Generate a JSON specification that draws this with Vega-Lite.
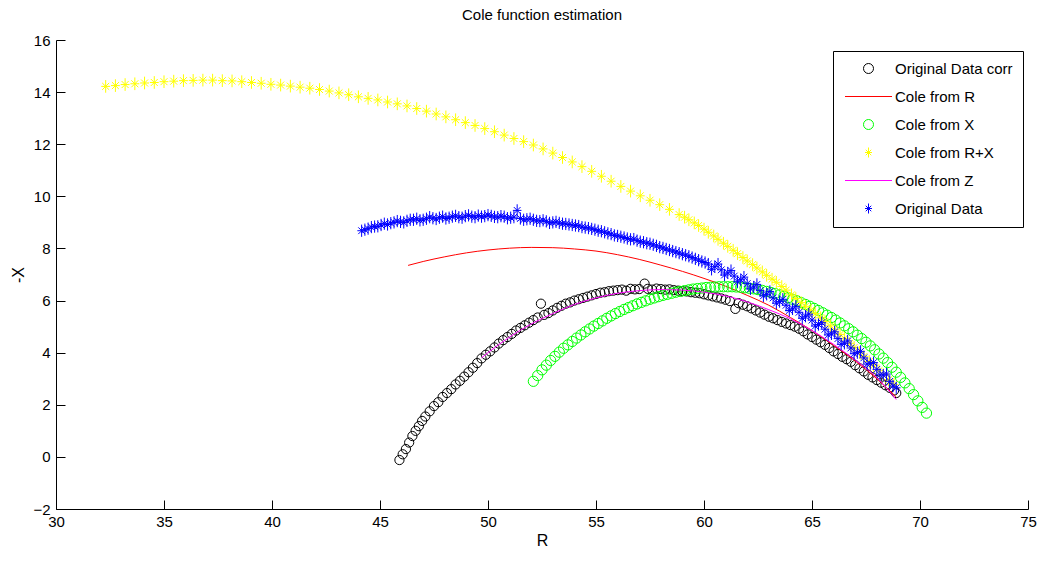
{
"$schema":"https://vega.github.io/schema/vega-lite/v6.json",
"width":972,"height":469,
"autosize":{"type":"none"},
"padding":{"left":56,"top":40,"right":13,"bottom":53},
"background":"#ffffff",
"title":{"text":"Cole function estimation","font":"Liberation Sans","fontSize":15,"fontWeight":"normal","color":"#000000","offset":10,"anchor":"middle"},
"config":{"view":{"stroke":null},
"axis":{"grid":false,"domainColor":"#000000","tickColor":"#000000","tickSize":-9,"labelFont":"Liberation Sans","labelFontSize":15,"labelColor":"#000000","titleFont":"Liberation Sans","titleFontSize":16,"titleFontWeight":"normal","titleColor":"#000000","labelOverlap":false,"labelFlush":false}},
"data":{"values":[
{"s":"k","r":45.9,"x":-0.12},{"s":"k","r":46.05,"x":0.1},{"s":"k","r":46.2,"x":0.3},{"s":"k","r":46.35,"x":0.55},{"s":"k","r":46.5,"x":0.8},{"s":"k","r":46.65,"x":1.0},{"s":"k","r":46.8,"x":1.18},{"s":"k","r":46.95,"x":1.38},{"s":"k","r":47.1,"x":1.55},{"s":"k","r":47.3,"x":1.75},{"s":"k","r":47.5,"x":1.95},{"s":"k","r":47.7,"x":2.1},{"s":"k","r":47.9,"x":2.3},{"s":"k","r":48.1,"x":2.45},{"s":"k","r":48.3,"x":2.6},{"s":"k","r":48.5,"x":2.78},{"s":"k","r":48.7,"x":2.92},{"s":"k","r":48.9,"x":3.08},{"s":"k","r":49.1,"x":3.25},{"s":"k","r":49.3,"x":3.42},{"s":"k","r":49.5,"x":3.6},{"s":"k","r":49.7,"x":3.78},{"s":"k","r":49.9,"x":3.92},{"s":"k","r":50.1,"x":4.05},{"s":"k","r":50.3,"x":4.2},{"s":"k","r":50.5,"x":4.35},{"s":"k","r":50.7,"x":4.48},{"s":"k","r":50.9,"x":4.6},{"s":"k","r":51.1,"x":4.72},{"s":"k","r":51.3,"x":4.85},{"s":"k","r":51.5,"x":4.95},{"s":"k","r":51.7,"x":5.05},{"s":"k","r":51.9,"x":5.15},{"s":"k","r":52.1,"x":5.25},{"s":"k","r":52.3,"x":5.35},{"s":"k","r":52.45,"x":5.88},{"s":"k","r":52.6,"x":5.45},{"s":"k","r":52.8,"x":5.52},{"s":"k","r":53.0,"x":5.62},{"s":"k","r":53.2,"x":5.72},{"s":"k","r":53.4,"x":5.8},{"s":"k","r":53.6,"x":5.88},{"s":"k","r":53.8,"x":5.93},{"s":"k","r":54.0,"x":6.0},{"s":"k","r":54.2,"x":6.05},{"s":"k","r":54.4,"x":6.1},{"s":"k","r":54.6,"x":6.15},{"s":"k","r":54.8,"x":6.2},{"s":"k","r":55.0,"x":6.25},{"s":"k","r":55.2,"x":6.3},{"s":"k","r":55.4,"x":6.32},{"s":"k","r":55.6,"x":6.36},{"s":"k","r":55.8,"x":6.38},{"s":"k","r":56.0,"x":6.4},{"s":"k","r":56.2,"x":6.42},{"s":"k","r":56.4,"x":6.38},{"s":"k","r":56.6,"x":6.45},{"s":"k","r":56.8,"x":6.43},{"s":"k","r":57.0,"x":6.44},{"s":"k","r":57.25,"x":6.65},{"s":"k","r":57.4,"x":6.45},{"s":"k","r":57.6,"x":6.42},{"s":"k","r":57.8,"x":6.46},{"s":"k","r":58.0,"x":6.44},{"s":"k","r":58.2,"x":6.42},{"s":"k","r":58.4,"x":6.43},{"s":"k","r":58.6,"x":6.4},{"s":"k","r":58.8,"x":6.38},{"s":"k","r":59.0,"x":6.36},{"s":"k","r":59.2,"x":6.35},{"s":"k","r":59.4,"x":6.32},{"s":"k","r":59.6,"x":6.3},{"s":"k","r":59.8,"x":6.28},{"s":"k","r":60.0,"x":6.24},{"s":"k","r":60.2,"x":6.2},{"s":"k","r":60.4,"x":6.16},{"s":"k","r":60.6,"x":6.12},{"s":"k","r":60.8,"x":6.08},{"s":"k","r":61.0,"x":6.03},{"s":"k","r":61.2,"x":5.98},{"s":"k","r":61.45,"x":5.68},{"s":"k","r":61.6,"x":5.9},{"s":"k","r":61.8,"x":5.84},{"s":"k","r":62.0,"x":5.78},{"s":"k","r":62.2,"x":5.7},{"s":"k","r":62.4,"x":5.62},{"s":"k","r":62.6,"x":5.54},{"s":"k","r":62.8,"x":5.46},{"s":"k","r":63.0,"x":5.38},{"s":"k","r":63.2,"x":5.32},{"s":"k","r":63.4,"x":5.25},{"s":"k","r":63.6,"x":5.18},{"s":"k","r":63.8,"x":5.12},{"s":"k","r":64.0,"x":5.06},{"s":"k","r":64.2,"x":5.0},{"s":"k","r":64.4,"x":4.92},{"s":"k","r":64.6,"x":4.82},{"s":"k","r":64.8,"x":4.7},{"s":"k","r":65.0,"x":4.6},{"s":"k","r":65.2,"x":4.5},{"s":"k","r":65.4,"x":4.4},{"s":"k","r":65.6,"x":4.3},{"s":"k","r":65.8,"x":4.18},{"s":"k","r":66.0,"x":4.05},{"s":"k","r":66.2,"x":3.95},{"s":"k","r":66.4,"x":3.84},{"s":"k","r":66.6,"x":3.75},{"s":"k","r":66.8,"x":3.65},{"s":"k","r":67.0,"x":3.52},{"s":"k","r":67.2,"x":3.4},{"s":"k","r":67.4,"x":3.28},{"s":"k","r":67.6,"x":3.15},{"s":"k","r":67.8,"x":3.05},{"s":"k","r":68.0,"x":2.95},{"s":"k","r":68.2,"x":2.85},{"s":"k","r":68.4,"x":2.75},{"s":"k","r":68.6,"x":2.65},{"s":"k","r":68.8,"x":2.55},{"s":"k","r":68.9,"x":2.45},
{"s":"r","r":46.3,"x":7.35},{"s":"r","r":47,"x":7.5},{"s":"r","r":48,"x":7.68},{"s":"r","r":49,"x":7.83},{"s":"r","r":50,"x":7.94},{"s":"r","r":51,"x":8.01},{"s":"r","r":52,"x":8.04},{"s":"r","r":53,"x":8.03},{"s":"r","r":54,"x":7.98},{"s":"r","r":55,"x":7.9},{"s":"r","r":56,"x":7.76},{"s":"r","r":57,"x":7.58},{"s":"r","r":58,"x":7.36},{"s":"r","r":59,"x":7.12},{"s":"r","r":60,"x":6.85},{"s":"r","r":61,"x":6.55},{"s":"r","r":62,"x":6.2},{"s":"r","r":63,"x":5.82},{"s":"r","r":64,"x":5.35},{"s":"r","r":65,"x":4.85},{"s":"r","r":66,"x":4.28},{"s":"r","r":67,"x":3.68},{"s":"r","r":68,"x":3.0},{"s":"r","r":68.9,"x":2.3},
{"s":"g","r":52.1,"x":2.9},{"s":"g","r":52.3,"x":3.12},{"s":"g","r":52.5,"x":3.34},{"s":"g","r":52.7,"x":3.52},{"s":"g","r":52.9,"x":3.7},{"s":"g","r":53.1,"x":3.86},{"s":"g","r":53.3,"x":4.02},{"s":"g","r":53.5,"x":4.17},{"s":"g","r":53.7,"x":4.3},{"s":"g","r":53.9,"x":4.43},{"s":"g","r":54.1,"x":4.56},{"s":"g","r":54.3,"x":4.68},{"s":"g","r":54.5,"x":4.8},{"s":"g","r":54.7,"x":4.91},{"s":"g","r":54.9,"x":5.02},{"s":"g","r":55.1,"x":5.12},{"s":"g","r":55.3,"x":5.22},{"s":"g","r":55.5,"x":5.32},{"s":"g","r":55.7,"x":5.41},{"s":"g","r":55.9,"x":5.5},{"s":"g","r":56.1,"x":5.58},{"s":"g","r":56.3,"x":5.66},{"s":"g","r":56.5,"x":5.73},{"s":"g","r":56.7,"x":5.8},{"s":"g","r":56.9,"x":5.87},{"s":"g","r":57.1,"x":5.93},{"s":"g","r":57.3,"x":5.99},{"s":"g","r":57.5,"x":6.05},{"s":"g","r":57.7,"x":6.1},{"s":"g","r":57.9,"x":6.15},{"s":"g","r":58.1,"x":6.2},{"s":"g","r":58.3,"x":6.24},{"s":"g","r":58.5,"x":6.28},{"s":"g","r":58.7,"x":6.32},{"s":"g","r":58.9,"x":6.35},{"s":"g","r":59.1,"x":6.38},{"s":"g","r":59.3,"x":6.41},{"s":"g","r":59.5,"x":6.44},{"s":"g","r":59.7,"x":6.46},{"s":"g","r":59.9,"x":6.48},{"s":"g","r":60.1,"x":6.5},{"s":"g","r":60.3,"x":6.51},{"s":"g","r":60.5,"x":6.52},{"s":"g","r":60.7,"x":6.53},{"s":"g","r":60.9,"x":6.53},{"s":"g","r":61.1,"x":6.53},{"s":"g","r":61.3,"x":6.53},{"s":"g","r":61.5,"x":6.52},{"s":"g","r":61.7,"x":6.51},{"s":"g","r":61.9,"x":6.49},{"s":"g","r":62.1,"x":6.47},{"s":"g","r":62.3,"x":6.45},{"s":"g","r":62.5,"x":6.42},{"s":"g","r":62.7,"x":6.39},{"s":"g","r":62.9,"x":6.35},{"s":"g","r":63.1,"x":6.31},{"s":"g","r":63.3,"x":6.27},{"s":"g","r":63.5,"x":6.22},{"s":"g","r":63.7,"x":6.17},{"s":"g","r":63.9,"x":6.11},{"s":"g","r":64.1,"x":6.05},{"s":"g","r":64.3,"x":5.99},{"s":"g","r":64.5,"x":5.92},{"s":"g","r":64.7,"x":5.85},{"s":"g","r":64.9,"x":5.78},{"s":"g","r":65.1,"x":5.7},{"s":"g","r":65.3,"x":5.62},{"s":"g","r":65.5,"x":5.53},{"s":"g","r":65.7,"x":5.44},{"s":"g","r":65.9,"x":5.35},{"s":"g","r":66.1,"x":5.25},{"s":"g","r":66.3,"x":5.14},{"s":"g","r":66.5,"x":5.03},{"s":"g","r":66.7,"x":4.92},{"s":"g","r":66.9,"x":4.8},{"s":"g","r":67.1,"x":4.67},{"s":"g","r":67.3,"x":4.54},{"s":"g","r":67.5,"x":4.4},{"s":"g","r":67.7,"x":4.26},{"s":"g","r":67.9,"x":4.11},{"s":"g","r":68.1,"x":3.95},{"s":"g","r":68.3,"x":3.79},{"s":"g","r":68.5,"x":3.62},{"s":"g","r":68.7,"x":3.44},{"s":"g","r":68.9,"x":3.25},{"s":"g","r":69.1,"x":3.05},{"s":"g","r":69.3,"x":2.84},{"s":"g","r":69.5,"x":2.62},{"s":"g","r":69.7,"x":2.39},{"s":"g","r":69.9,"x":2.15},{"s":"g","r":70.1,"x":1.9},{"s":"g","r":70.3,"x":1.68},
{"s":"y","r":32.3,"x":14.22},{"s":"y","r":32.75,"x":14.25},{"s":"y","r":33.2,"x":14.29},{"s":"y","r":33.65,"x":14.32},{"s":"y","r":34.1,"x":14.35},{"s":"y","r":34.55,"x":14.37},{"s":"y","r":35.0,"x":14.4},{"s":"y","r":35.45,"x":14.42},{"s":"y","r":35.9,"x":14.44},{"s":"y","r":36.35,"x":14.45},{"s":"y","r":36.8,"x":14.46},{"s":"y","r":37.25,"x":14.46},{"s":"y","r":37.7,"x":14.44},{"s":"y","r":38.15,"x":14.43},{"s":"y","r":38.6,"x":14.4},{"s":"y","r":39.05,"x":14.37},{"s":"y","r":39.5,"x":14.34},{"s":"y","r":39.95,"x":14.3},{"s":"y","r":40.4,"x":14.27},{"s":"y","r":40.85,"x":14.23},{"s":"y","r":41.3,"x":14.19},{"s":"y","r":41.75,"x":14.15},{"s":"y","r":42.2,"x":14.1},{"s":"y","r":42.65,"x":14.04},{"s":"y","r":43.1,"x":13.97},{"s":"y","r":43.55,"x":13.9},{"s":"y","r":44.0,"x":13.82},{"s":"y","r":44.45,"x":13.76},{"s":"y","r":44.9,"x":13.7},{"s":"y","r":45.35,"x":13.62},{"s":"y","r":45.8,"x":13.55},{"s":"y","r":46.25,"x":13.47},{"s":"y","r":46.7,"x":13.37},{"s":"y","r":47.15,"x":13.27},{"s":"y","r":47.6,"x":13.16},{"s":"y","r":48.05,"x":13.05},{"s":"y","r":48.5,"x":12.94},{"s":"y","r":48.95,"x":12.83},{"s":"y","r":49.4,"x":12.72},{"s":"y","r":49.85,"x":12.6},{"s":"y","r":50.3,"x":12.48},{"s":"y","r":50.75,"x":12.35},{"s":"y","r":51.2,"x":12.22},{"s":"y","r":51.65,"x":12.1},{"s":"y","r":52.1,"x":11.97},{"s":"y","r":52.55,"x":11.82},{"s":"y","r":53.0,"x":11.66},{"s":"y","r":53.45,"x":11.49},{"s":"y","r":53.9,"x":11.32},{"s":"y","r":54.35,"x":11.14},{"s":"y","r":54.8,"x":10.96},{"s":"y","r":55.25,"x":10.77},{"s":"y","r":55.7,"x":10.58},{"s":"y","r":56.15,"x":10.38},{"s":"y","r":56.6,"x":10.2},{"s":"y","r":57.05,"x":10.02},{"s":"y","r":57.5,"x":9.85},{"s":"y","r":57.95,"x":9.68},{"s":"y","r":58.4,"x":9.5},{"s":"y","r":58.85,"x":9.3},{"s":"y","r":59.1,"x":9.2},{"s":"y","r":59.3,"x":9.1},{"s":"y","r":59.55,"x":8.98},{"s":"y","r":59.75,"x":8.88},{"s":"y","r":60.0,"x":8.74},{"s":"y","r":60.2,"x":8.62},{"s":"y","r":60.45,"x":8.48},{"s":"y","r":60.65,"x":8.35},{"s":"y","r":60.9,"x":8.2},{"s":"y","r":61.1,"x":8.08},{"s":"y","r":61.35,"x":7.93},{"s":"y","r":61.55,"x":7.8},{"s":"y","r":61.8,"x":7.65},{"s":"y","r":62.0,"x":7.52},{"s":"y","r":62.25,"x":7.38},{"s":"y","r":62.45,"x":7.25},{"s":"y","r":62.7,"x":7.1},{"s":"y","r":62.9,"x":6.97},{"s":"y","r":63.15,"x":6.82},{"s":"y","r":63.35,"x":6.7},{"s":"y","r":63.6,"x":6.54},{"s":"y","r":63.8,"x":6.4},{"s":"y","r":64.05,"x":6.22},{"s":"y","r":64.25,"x":6.08},{"s":"y","r":64.5,"x":5.92},{"s":"y","r":64.7,"x":5.78},{"s":"y","r":64.95,"x":5.63},{"s":"y","r":65.15,"x":5.5},{"s":"y","r":65.4,"x":5.34},{"s":"y","r":65.6,"x":5.2},{"s":"y","r":65.85,"x":5.03},{"s":"y","r":66.05,"x":4.88},{"s":"y","r":66.3,"x":4.7},{"s":"y","r":66.5,"x":4.55},{"s":"y","r":66.75,"x":4.36},{"s":"y","r":66.95,"x":4.2},{"s":"y","r":67.2,"x":4.01},{"s":"y","r":67.4,"x":3.85},{"s":"y","r":67.65,"x":3.66},{"s":"y","r":67.85,"x":3.5},{"s":"y","r":68.1,"x":3.31},{"s":"y","r":68.3,"x":3.15},{"s":"y","r":68.55,"x":2.96},{"s":"y","r":68.8,"x":2.78},
{"s":"m","r":49.7,"x":3.8},{"s":"m","r":50,"x":4.0},{"s":"m","r":51,"x":4.6},{"s":"m","r":52,"x":5.1},{"s":"m","r":53,"x":5.5},{"s":"m","r":54,"x":5.85},{"s":"m","r":55,"x":6.1},{"s":"m","r":56,"x":6.28},{"s":"m","r":57,"x":6.38},{"s":"m","r":58,"x":6.42},{"s":"m","r":59,"x":6.4},{"s":"m","r":60,"x":6.32},{"s":"m","r":61,"x":6.18},{"s":"m","r":62,"x":5.95},{"s":"m","r":63,"x":5.65},{"s":"m","r":64,"x":5.3},{"s":"m","r":65,"x":4.85},{"s":"m","r":66,"x":4.32},{"s":"m","r":67,"x":3.72},{"s":"m","r":68,"x":3.05},{"s":"m","r":68.9,"x":2.2},
{"s":"b","r":44.15,"x":8.68},{"s":"b","r":44.45,"x":8.76},{"s":"b","r":44.75,"x":8.84},{"s":"b","r":45.05,"x":8.9},{"s":"b","r":45.35,"x":8.92},{"s":"b","r":45.65,"x":9.0},{"s":"b","r":45.95,"x":9.02},{"s":"b","r":46.25,"x":9.06},{"s":"b","r":46.55,"x":9.1},{"s":"b","r":46.85,"x":9.08},{"s":"b","r":47.15,"x":9.14},{"s":"b","r":47.45,"x":9.16},{"s":"b","r":47.75,"x":9.18},{"s":"b","r":48.05,"x":9.15},{"s":"b","r":48.35,"x":9.22},{"s":"b","r":48.65,"x":9.2},{"s":"b","r":48.95,"x":9.24},{"s":"b","r":49.25,"x":9.22},{"s":"b","r":49.55,"x":9.26},{"s":"b","r":49.85,"x":9.24},{"s":"b","r":50.15,"x":9.25},{"s":"b","r":50.45,"x":9.2},{"s":"b","r":50.75,"x":9.22},{"s":"b","r":51.05,"x":9.18},{"s":"b","r":51.35,"x":9.46},{"s":"b","r":51.5,"x":9.15},{"s":"b","r":51.8,"x":9.12},{"s":"b","r":52.1,"x":9.1},{"s":"b","r":52.4,"x":9.05},{"s":"b","r":52.7,"x":9.04},{"s":"b","r":53.0,"x":9.0},{"s":"b","r":53.3,"x":8.98},{"s":"b","r":53.6,"x":8.94},{"s":"b","r":53.9,"x":8.9},{"s":"b","r":54.2,"x":8.86},{"s":"b","r":54.5,"x":8.8},{"s":"b","r":54.8,"x":8.75},{"s":"b","r":55.1,"x":8.68},{"s":"b","r":55.4,"x":8.62},{"s":"b","r":55.7,"x":8.55},{"s":"b","r":56.0,"x":8.48},{"s":"b","r":56.3,"x":8.42},{"s":"b","r":56.6,"x":8.35},{"s":"b","r":56.9,"x":8.3},{"s":"b","r":57.2,"x":8.24},{"s":"b","r":57.5,"x":8.18},{"s":"b","r":57.8,"x":8.1},{"s":"b","r":58.1,"x":8.02},{"s":"b","r":58.4,"x":7.94},{"s":"b","r":58.7,"x":7.86},{"s":"b","r":59.0,"x":7.78},{"s":"b","r":59.3,"x":7.7},{"s":"b","r":59.6,"x":7.6},{"s":"b","r":59.9,"x":7.5},{"s":"b","r":60.2,"x":7.4},{"s":"b","r":60.5,"x":7.3},{"s":"b","r":60.8,"x":7.18},{"s":"b","r":61.1,"x":7.06},{"s":"b","r":61.4,"x":6.94},{"s":"b","r":61.7,"x":6.8},{"s":"b","r":62.0,"x":6.65},{"s":"b","r":62.3,"x":6.52},{"s":"b","r":62.6,"x":6.38},{"s":"b","r":62.9,"x":6.24},{"s":"b","r":63.2,"x":6.1},{"s":"b","r":63.5,"x":5.96},{"s":"b","r":63.8,"x":5.82},{"s":"b","r":64.1,"x":5.68},{"s":"b","r":64.4,"x":5.55},{"s":"b","r":64.7,"x":5.4},{"s":"b","r":65.0,"x":5.25},{"s":"b","r":65.3,"x":5.08},{"s":"b","r":65.6,"x":4.9},{"s":"b","r":65.9,"x":4.72},{"s":"b","r":66.2,"x":4.54},{"s":"b","r":66.5,"x":4.36},{"s":"b","r":66.8,"x":4.18},{"s":"b","r":67.1,"x":4.0},{"s":"b","r":67.4,"x":3.8},{"s":"b","r":67.7,"x":3.58},{"s":"b","r":68.0,"x":3.36},{"s":"b","r":68.3,"x":3.14},{"s":"b","r":68.6,"x":2.9},{"s":"b","r":68.9,"x":2.65},
{"s":"b","r":60.35,"x":7.2},{"s":"b","r":60.95,"x":6.98},{"s":"b","r":61.55,"x":6.72},{"s":"b","r":62.15,"x":6.45},{"s":"b","r":62.75,"x":6.18},{"s":"b","r":63.35,"x":5.9},{"s":"b","r":63.95,"x":5.62},{"s":"b","r":64.55,"x":5.32},{"s":"b","r":65.15,"x":5.02},{"s":"b","r":65.75,"x":4.68},{"s":"b","r":66.35,"x":4.32},{"s":"b","r":66.95,"x":3.96},{"s":"b","r":67.55,"x":3.56},{"s":"b","r":68.15,"x":3.15},{"s":"b","r":68.75,"x":2.72},
{"s":"b","r":44.3,"x":8.72},{"s":"b","r":44.6,"x":8.82},{"s":"b","r":44.9,"x":8.85},{"s":"b","r":45.2,"x":8.95},{"s":"b","r":45.5,"x":8.97},{"s":"b","r":45.8,"x":9.05},{"s":"b","r":46.1,"x":9.0},{"s":"b","r":46.4,"x":9.1},{"s":"b","r":46.7,"x":9.14},{"s":"b","r":47.0,"x":9.1},{"s":"b","r":47.3,"x":9.2},{"s":"b","r":47.6,"x":9.13},{"s":"b","r":47.9,"x":9.22},{"s":"b","r":48.2,"x":9.18},{"s":"b","r":48.5,"x":9.25},{"s":"b","r":48.8,"x":9.18},{"s":"b","r":49.1,"x":9.27},{"s":"b","r":49.4,"x":9.2},{"s":"b","r":49.7,"x":9.22},{"s":"b","r":50.0,"x":9.28},{"s":"b","r":50.3,"x":9.21},{"s":"b","r":50.6,"x":9.24},{"s":"b","r":50.9,"x":9.16},{"s":"b","r":51.2,"x":9.2},{"s":"b","r":51.65,"x":9.1},{"s":"b","r":51.95,"x":9.14},{"s":"b","r":52.25,"x":9.06},{"s":"b","r":52.55,"x":9.08},{"s":"b","r":52.85,"x":8.98},{"s":"b","r":53.15,"x":9.02},{"s":"b","r":53.45,"x":8.95},{"s":"b","r":53.75,"x":8.92},{"s":"b","r":54.05,"x":8.88},{"s":"b","r":54.35,"x":8.82},{"s":"b","r":54.65,"x":8.78},{"s":"b","r":54.95,"x":8.72},{"s":"b","r":55.25,"x":8.66},{"s":"b","r":55.55,"x":8.58},{"s":"b","r":55.85,"x":8.5},{"s":"b","r":56.15,"x":8.45},{"s":"b","r":56.45,"x":8.38},{"s":"b","r":56.75,"x":8.36},{"s":"b","r":57.05,"x":8.26},{"s":"b","r":57.35,"x":8.2},{"s":"b","r":57.65,"x":8.14},{"s":"b","r":57.95,"x":8.05},{"s":"b","r":58.25,"x":7.98},{"s":"b","r":58.55,"x":7.9},{"s":"b","r":58.85,"x":7.82},{"s":"b","r":59.15,"x":7.74},{"s":"b","r":59.45,"x":7.65},{"s":"b","r":59.75,"x":7.55},{"s":"b","r":60.05,"x":7.46},{"s":"b","r":60.65,"x":7.4},{"s":"b","r":61.25,"x":7.15},{"s":"b","r":61.85,"x":6.9},{"s":"b","r":62.45,"x":6.62},{"s":"b","r":63.05,"x":6.35},{"s":"b","r":63.65,"x":6.05},{"s":"b","r":64.25,"x":5.78},{"s":"b","r":64.85,"x":5.48},{"s":"b","r":65.45,"x":5.15},{"s":"b","r":66.05,"x":4.8},{"s":"b","r":66.65,"x":4.45},{"s":"b","r":67.25,"x":4.05},{"s":"b","r":67.85,"x":3.62},{"s":"b","r":68.45,"x":3.18}
]},
"layer":[
{"transform":[{"filter":"datum.s=='k'"}],
 "mark":{"type":"point","filled":false,"size":85,"strokeWidth":1,"opacity":1},
 "encoding":{
  "x":{"field":"r","type":"quantitative","title":"R","scale":{"domain":[30,75],"nice":false,"zero":false},"axis":{"values":[30,35,40,45,50,55,60,65,70,75],"labelPadding":14,"titlePadding":3}},
  "y":{"field":"x","type":"quantitative","title":"-X","scale":{"domain":[-2,16],"nice":false,"zero":false},"axis":{"values":[-2,0,2,4,6,8,10,12,14,16],"labelPadding":15,"titlePadding":6}},
  "color":{"field":"s","type":"nominal","scale":{"domain":["k","r","g","y","m","b"],"range":["#000000","#ff0000","#00ff00","#ffff00","#ff00ff","#0000ff"]},
    "legend":{"title":null,"orient":"none","legendX":777,"legendY":11,"padding":10,"strokeColor":"#000000","fillColor":"#ffffff","labelFont":"Liberation Sans","labelFontSize":15,"labelColor":"#000000","symbolSize":100,"symbolStrokeWidth":1,"symbolFillColor":"transparent","symbolOffset":18,"labelOffset":19,"rowPadding":12,"labelLimit":300,
      "labelExpr":"datum.label=='k'?'Original Data corr':datum.label=='r'?'Cole from R':datum.label=='g'?'Cole from X':datum.label=='y'?'Cole from R+X':datum.label=='m'?'Cole from Z':'Original Data'",
      "encode":{"symbols":{"update":{"stroke":{"scale":"color","field":"value"},"fill":{"value":"transparent"},"strokeWidth":{"value":1},"opacity":{"value":1}}}}}},
  "shape":{"field":"s","type":"nominal","scale":{"domain":["k","r","g","y","m","b"],"range":["circle","M-4.7,0L4.7,0","circle","M0,-1L0,1M-0.7,0L0.7,0M-0.55,-0.55L0.55,0.55M-0.55,0.55L0.55,-0.55","M-4.7,0L4.7,0","M0,-1L0,1M-0.7,0L0.7,0M-0.55,-0.55L0.55,0.55M-0.55,0.55L0.55,-0.55"]},
    "legend":{"title":null,"orient":"none","legendX":777,"legendY":11,"padding":10,"strokeColor":"#000000","fillColor":"#ffffff","labelFont":"Liberation Sans","labelFontSize":15,"labelColor":"#000000","symbolSize":100,"symbolStrokeWidth":1,"symbolFillColor":"transparent","symbolOffset":18,"labelOffset":19,"rowPadding":12,"labelLimit":300,
      "labelExpr":"datum.label=='k'?'Original Data corr':datum.label=='r'?'Cole from R':datum.label=='g'?'Cole from X':datum.label=='y'?'Cole from R+X':datum.label=='m'?'Cole from Z':'Original Data'",
      "encode":{"symbols":{"update":{"stroke":{"scale":"color","field":"value"},"fill":{"value":"transparent"},"strokeWidth":{"value":1},"opacity":{"value":1}}}}}}
 }},
{"transform":[{"filter":"datum.s=='r'"}],
 "mark":{"type":"line","strokeWidth":1,"interpolate":"monotone"},
 "encoding":{"x":{"field":"r","type":"quantitative"},"y":{"field":"x","type":"quantitative"},"color":{"field":"s","type":"nominal"}}},
{"transform":[{"filter":"datum.s=='g'"}],
 "mark":{"type":"point","filled":false,"size":105,"strokeWidth":1,"opacity":1},
 "encoding":{"x":{"field":"r","type":"quantitative"},"y":{"field":"x","type":"quantitative"},"color":{"field":"s","type":"nominal"},"shape":{"field":"s","type":"nominal"}}},
{"transform":[{"filter":"datum.s=='y'"}],
 "mark":{"type":"point","filled":false,"size":160,"strokeWidth":1,"opacity":1},
 "encoding":{"x":{"field":"r","type":"quantitative"},"y":{"field":"x","type":"quantitative"},"color":{"field":"s","type":"nominal"},"shape":{"field":"s","type":"nominal"}}},
{"transform":[{"filter":"datum.s=='m'"}],
 "mark":{"type":"line","strokeWidth":1,"interpolate":"monotone"},
 "encoding":{"x":{"field":"r","type":"quantitative"},"y":{"field":"x","type":"quantitative"},"color":{"field":"s","type":"nominal"}}},
{"transform":[{"filter":"datum.s=='b'"}],
 "mark":{"type":"point","filled":false,"size":150,"strokeWidth":1,"opacity":1},
 "encoding":{"x":{"field":"r","type":"quantitative"},"y":{"field":"x","type":"quantitative"},"color":{"field":"s","type":"nominal"},"shape":{"field":"s","type":"nominal"}}}
]
}
